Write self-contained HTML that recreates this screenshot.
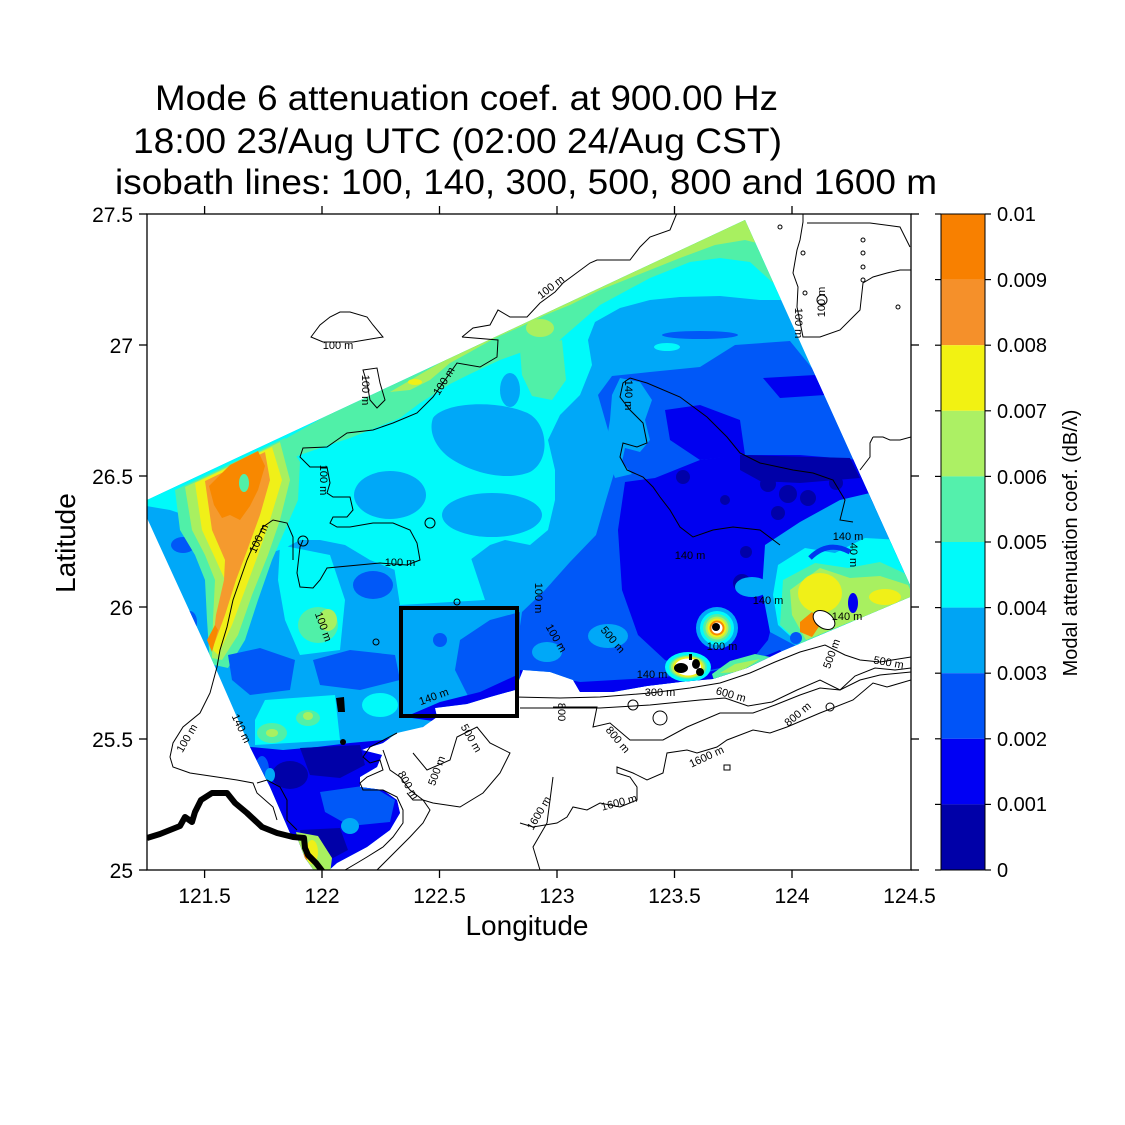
<!DOCTYPE html>
<html><head><meta charset="utf-8"><style>
html,body{margin:0;padding:0;background:#fff;}
svg{display:block;}
text{font-family:"Liberation Sans",Arial,sans-serif;fill:#000;}
.c{fill:none;stroke:#000;stroke-width:1;}
.l{font-size:11px;}
</style></head><body>
<svg width="1125" height="1125" viewBox="0 0 1125 1125" xmlns="http://www.w3.org/2000/svg">
<defs>
<clipPath id="frame"><rect x="147" y="214" width="764" height="656"/></clipPath>
<clipPath id="data"><path d="M147,500 L745,220 L910,585 L910,597 L780,652 L747,668 L713,679 L680,682 L647,686 L613,692 L580,692 L573,680 L550,672 L523,670 L515,690 L490,697 L467,704 L435,708 L437,717 L423,727 L397,733 L383,743 L367,748 L362,750 L382,755 L377,767 L360,777 L360,787 L383,790 L397,800 L400,813 L390,830 L367,847 L337,863 L327,872 L315,872 L305,858 L298,840 L290,833 L270,787 L250,747 L212,660 L157,540 L147,518 Z"/></clipPath>
</defs>
<rect width="1125" height="1125" fill="#fff"/>

<g clip-path="url(#frame)">
<g clip-path="url(#data)">
<rect x="140" y="200" width="780" height="680" fill="#00A8F8"/>
<path fill="#00FAFA" d="M140,470 L745,185 L795,300 L760,300 L720,296 L680,297 L650,300 L620,308 L595,322 L588,340 L592,365 L580,395 L560,415 L548,440 L555,470 L555,500 L548,530 L530,545 L505,540 L490,545 L470,560 L440,570 L400,572 L370,560 L345,545 L320,540 L300,540 L285,548 L250,560 L200,520 L170,510 L140,505 Z"/>
<path fill="#50F0A8" d="M262,452 L745,180 L790,288 L772,282 L750,262 L720,258 L690,262 L650,278 L600,305 L562,338 L545,355 L528,350 L500,360 L470,374 L450,384 L420,403 L400,418 L370,430 L350,438 L320,448 L300,455 L280,463 Z"/>
<path fill="#50F0A8" d="M520,350 L562,340 L566,380 L552,400 L532,396 L522,375 Z"/>
<path fill="#A8F060" d="M390,392 L745,185 L765,245 L745,240 L715,245 L680,258 L640,274 L600,290 L570,305 L545,315 L520,327 L495,338 L470,352 L450,363 L430,380 L410,390 Z"/>
<ellipse cx="540" cy="328" rx="14" ry="9" fill="#A8F060"/>
<ellipse cx="415" cy="382" rx="7" ry="3" fill="#F0F018"/>
<path fill="#00A8F8" d="M433,418 C445,402 495,400 525,412 C548,420 552,460 530,472 C505,482 470,472 450,458 C436,448 428,432 433,418 Z"/>
<ellipse cx="390" cy="495" rx="36" ry="24" fill="#00A8F8"/>
<ellipse cx="492" cy="515" rx="50" ry="22" fill="#00A8F8"/>
<ellipse cx="510" cy="390" rx="10" ry="17" fill="#00A8F8"/>
<ellipse cx="183" cy="545" rx="12" ry="8" fill="#0058F8"/>
<ellipse cx="168" cy="592" rx="7" ry="13" fill="#0058F8"/>
<ellipse cx="190" cy="622" rx="7" ry="11" fill="#0058F8"/>
<!-- left hotspot -->
<path fill="#50F0A8" d="M175,490 L285,438 L300,462 L298,500 L285,530 L272,560 L258,600 L245,640 L228,668 L210,664 L207,620 L205,580 L195,555 L180,530 Z"/>
<path fill="#A8F060" d="M185,487 L280,442 L290,480 L280,520 L268,555 L252,595 L238,635 L222,660 L212,658 L213,620 L215,580 L205,555 L192,530 Z"/>
<path fill="#F0F018" d="M195,483 L272,447 L282,480 L270,520 L258,555 L245,590 L232,625 L218,655 L213,650 L220,615 L225,580 L215,558 L202,530 Z"/>
<path fill="#F59A2E" d="M205,481 L265,452 L270,480 L260,515 L248,548 L236,580 L225,615 L212,650 L216,615 L224,580 L225,560 L212,530 Z"/>
<path fill="#F88800" d="M209,486 L230,465 L258,451 L265,466 L258,490 L250,506 L240,520 L230,515 L222,518 L214,505 Z"/>
<ellipse cx="244" cy="483" rx="5" ry="9" fill="#50F0A8"/>
<path fill="#F88800" d="M207,640 L215,625 L218,630 L212,652 Z"/>
<!-- lower-left mid -->
<path fill="#0058F8" d="M228,655 L260,648 L295,660 L290,690 L250,695 L232,680 Z"/>
<path fill="#0058F8" d="M313,660 L350,650 L395,655 L400,680 L360,690 L320,685 Z"/>
<ellipse cx="373" cy="585" rx="20" ry="14" fill="#0058F8"/>
<path fill="#00FAFA" d="M280,545 L330,555 L345,600 L340,650 L300,655 L285,620 L278,580 Z"/>
<ellipse cx="318" cy="625" rx="20" ry="18" fill="#50F0A8"/>
<ellipse cx="328" cy="620" rx="9" ry="11" fill="#A8F060"/>
<path fill="#00FAFA" d="M393,560 L470,555 L485,600 L400,605 Z"/>
<path fill="#00FAFA" d="M265,700 L335,695 L340,740 L255,745 L255,720 Z"/>
<ellipse cx="272" cy="733" rx="15" ry="10" fill="#50F0A8"/>
<ellipse cx="308" cy="718" rx="12" ry="8" fill="#50F0A8"/>
<ellipse cx="272" cy="733" rx="6" ry="4" fill="#A8F060"/>
<ellipse cx="308" cy="716" rx="5" ry="4" fill="#A8F060"/>
<ellipse cx="380" cy="705" rx="18" ry="12" fill="#00FAFA"/>
<!-- right half -->
<ellipse cx="700" cy="335" rx="38" ry="4" fill="#0058F8"/>
<ellipse cx="667" cy="347" rx="13" ry="4" fill="#00FAFA"/>
<path fill="#0058F8" d="M598,395 L612,376 L650,372 L700,367 L735,345 L790,341 L820,378 L930,600 L780,655 L700,680 L580,695 L555,680 L520,672 L518,640 L522,612 L545,590 L570,562 L596,535 L606,500 L615,470 L608,430 Z"/>
<path fill="#00A8F8" d="M620,378 L640,382 L652,400 L645,420 L650,440 L640,452 L625,448 L622,462 L632,474 L615,478 L605,450 L610,420 L612,395 Z"/>
<ellipse cx="537" cy="578" rx="16" ry="11" fill="#00A8F8"/>
<ellipse cx="608" cy="636" rx="20" ry="12" fill="#00A8F8"/>
<ellipse cx="547" cy="652" rx="15" ry="10" fill="#00A8F8"/>
<path fill="#0000F0" d="M665,410 L700,405 L740,420 L745,455 L700,460 L670,440 Z"/>
<path fill="#0000F0" d="M763,378 L815,375 L825,395 L780,398 Z"/>
<path fill="#0000F0" d="M625,482 L655,478 L700,460 L740,455 L800,455 L860,460 L878,505 L835,530 L805,545 L785,560 L778,600 L768,640 L750,662 L700,672 L665,660 L638,635 L622,590 L618,530 Z"/>
<path fill="#0000F0" d="M520,670 L580,682 L650,678 L700,674 L750,662 L780,650 L790,662 L700,692 L520,702 Z"/>
<path fill="#0000A8" d="M740,455 L850,458 L860,478 L800,483 L760,481 L740,470 Z"/>
<circle cx="768" cy="484" r="8" fill="#0000A8"/>
<circle cx="788" cy="494" r="9" fill="#0000A8"/>
<circle cx="808" cy="498" r="8" fill="#0000A8"/>
<circle cx="836" cy="483" r="7" fill="#0000A8"/>
<circle cx="778" cy="513" r="7" fill="#0000A8"/>
<circle cx="746" cy="552" r="6" fill="#0000A8"/>
<circle cx="742" cy="583" r="9" fill="#0000A8"/>
<circle cx="683" cy="477" r="7" fill="#0000A8"/>
<circle cx="725" cy="500" r="5" fill="#0000A8"/>
<ellipse cx="752" cy="587" rx="17" ry="10" fill="#00A8F8"/>
<!-- box area -->
<path fill="#0058F8" d="M460,640 L490,620 L520,612 L520,690 L470,700 L455,670 Z"/>
<ellipse cx="440" cy="640" rx="7" ry="7" fill="#0058F8"/>
<path fill="#0000F0" d="M405,717 L440,702 L480,692 L517,675 L525,702 L440,722 Z"/>
<!-- lower lobe -->
<path fill="#0000F0" d="M230,745 L283,750 L317,747 L350,743 L383,740 L417,730 L440,718 L460,715 L460,900 L230,900 Z"/>
<path fill="#0000A8" d="M300,748 L360,745 L365,765 L340,778 L310,775 Z"/>
<ellipse cx="290" cy="775" rx="18" ry="14" fill="#0000A8"/>
<path fill="#0000A8" d="M300,830 L340,828 L348,850 L320,865 L302,850 Z"/>
<path fill="#0058F8" d="M320,792 L370,785 L395,800 L390,822 L350,826 L325,812 Z"/>
<ellipse cx="262" cy="770" rx="7" ry="14" fill="#0058F8"/>
<ellipse cx="350" cy="826" rx="9" ry="8" fill="#00A8F8"/>
<ellipse cx="270" cy="775" rx="5" ry="7" fill="#00A8F8"/>
<path fill="#A8F060" d="M296,832 L318,836 L332,858 L330,874 L312,874 L302,856 Z"/>
<ellipse cx="312" cy="852" rx="6" ry="12" fill="#F0F018"/>
<ellipse cx="305" cy="858" rx="2" ry="5" fill="#F88800"/>
<!-- right hotspot -->
<path fill="#00A8F8" d="M765,545 L800,522 L840,500 L870,493 L895,520 L915,560 L915,600 L860,622 L800,648 L770,632 L762,590 Z"/>
<path fill="#00FAFA" d="M778,565 L805,548 L835,553 L865,538 L900,540 L915,572 L915,600 L850,624 L800,645 L778,625 L773,595 Z"/>
<path d="M810,558 Q828,540 850,552" fill="none" stroke="#0038F0" stroke-width="5"/>
<path fill="#50F0A8" d="M783,580 L815,563 L848,568 L880,562 L908,575 L915,600 L850,624 L802,645 L780,625 Z"/>
<path fill="#A8F060" d="M790,590 L820,568 L850,578 L880,576 L908,585 L915,600 L850,622 L806,640 L792,615 Z"/>
<ellipse cx="820" cy="593" rx="22" ry="20" fill="#F0F018"/>
<ellipse cx="885" cy="597" rx="16" ry="8" fill="#F0F018"/>
<path fill="#F88800" d="M800,622 L812,612 L822,622 L812,637 L800,632 Z"/>
<ellipse cx="853" cy="603" rx="5" ry="10" fill="#0000F0"/>
<circle cx="796" cy="638" r="6" fill="#0058F8"/>
<!-- eddies -->
<circle cx="717" cy="628" r="21" fill="#00A8F8"/>
<circle cx="717" cy="628" r="17" fill="#00FAFA"/>
<circle cx="717" cy="628" r="14" fill="#50F0A8"/>
<circle cx="717" cy="628" r="11.5" fill="#A8F060"/>
<circle cx="717" cy="628" r="9.5" fill="#F0F018"/>
<circle cx="717" cy="628" r="7.5" fill="#F88800"/>
<circle cx="717" cy="628" r="5.5" fill="#fff"/>
<circle cx="716" cy="627" r="4" fill="#000"/>
<ellipse cx="688" cy="667" rx="23" ry="15" fill="#00FAFA"/>
<ellipse cx="688" cy="667" rx="19" ry="12" fill="#50F0A8"/>
<ellipse cx="688" cy="667" rx="17" ry="11" fill="#A8F060"/>
<ellipse cx="688" cy="667" rx="15" ry="10" fill="#F0F018"/>
<ellipse cx="688" cy="667" rx="13" ry="8.5" fill="#fff"/>
<ellipse cx="681" cy="668" rx="7" ry="5" fill="#000"/>
<ellipse cx="696" cy="664" rx="4" ry="5" fill="#000"/>
<ellipse cx="700" cy="672" rx="4" ry="4" fill="#000"/>
<rect x="689" y="654" width="3" height="6" fill="#000"/>
<path fill="#50F0A8" d="M712,674 L730,661 L755,654 L775,658 L745,676 L715,684 Z"/>
<path fill="#A8F060" d="M720,673 L735,664 L760,659 L740,672 Z"/>
<path fill="#000" d="M336,698 L344,697 L345,712 L338,712 Z"/>
<circle cx="343" cy="742" r="3" fill="#000"/>
</g>

<g class="c">
<polyline points="462,337 473,328 490,325 498,310 510,317 527,317 540,303 555,292 563,283 590,263 597,260 630,260 640,247 650,237 670,230 677,213"/>
<polyline points="462,337 498,340 497,357 480,367 457,363 450,373 433,397 417,413 393,423 373,430 347,433 337,440 327,447 303,448 300,457 310,467 327,467 330,483 327,493 333,497 350,497 353,510 347,517 333,517 330,523 337,527 350,527 373,523 393,523 410,530 417,543 420,560 407,565 380,563 327,568 320,580 313,588 300,587 297,573 300,547 303,540"/>
<polygon points="311,337 320,325 330,317 340,312 350,312 367,317 373,325 383,337 353,342 323,342"/>
<polygon points="363,370 377,368 380,383 385,400 377,408 370,400 367,383"/>
<polyline points="293,560 293,537 287,523 273,520 263,527 250,553 247,560 240,580 233,600 227,627 220,650 217,667 210,693 200,713 183,727 173,743 170,757 173,767 190,773 217,777 237,780 253,783 257,793 273,807 277,820"/>
<polyline points="803,214 803,222 800,240 797,250 793,273 798,287 797,307 803,337 820,337 840,330 860,310 863,283 873,277 887,273 900,270 911,270"/>
<polyline points="807,223 870,223 900,227 910,247"/>
<polyline points="873,437 883,437 890,440 900,440 911,437"/>
<polyline points="873,437 870,443 870,457 860,470"/>
<circle cx="780" cy="227" r="2"/><circle cx="863" cy="240" r="2"/><circle cx="863" cy="253" r="2"/><circle cx="863" cy="267" r="2"/><circle cx="863" cy="280" r="2"/><circle cx="898" cy="307" r="2"/><circle cx="803" cy="253" r="2"/><circle cx="805" cy="293" r="2"/><circle cx="822" cy="300" r="5"/>
<circle cx="430" cy="523" r="5"/><circle cx="303" cy="541" r="5"/><circle cx="457" cy="602" r="3"/><circle cx="376" cy="642" r="3"/>
<polyline points="630,378 647,383 680,397 707,417 727,437 740,453 760,463 793,470 813,473 833,480 845,500 840,520 853,522"/>
<polyline points="630,378 623,383 620,397 630,410 643,423 647,443 637,447 623,443 620,457 627,470 643,477 653,487 660,497 670,510 680,527 693,537 713,530 733,527 760,530 780,545"/>
<polyline points="515,697 560,698 600,697 650,693 690,688 720,683 750,673 775,662 800,652 825,645 845,655 860,660 880,662 911,657"/>
<polyline points="520,708 600,708 650,705 700,700 725,698 748,706 772,702 797,690 820,680 840,690 855,676 875,668 895,670 911,668"/>
<polyline points="553,707 597,707 593,727 610,723 630,740 663,740 687,727 720,713 753,713 775,705 800,695 820,688 840,690 860,680 880,675 911,672"/>
<polyline points="911,680 887,687 873,683 853,700 820,713 787,727 770,733 753,730 727,740 717,747 697,753 687,750 667,753 663,773 647,780 633,773 617,767 617,773 630,777 637,787 637,800 620,807 600,803 587,810 573,807 567,817 557,823 533,827 520,823"/>
<polyline points="553,777 550,800 547,823 533,847 540,870"/>
<circle cx="633" cy="705" r="5"/><circle cx="660" cy="718" r="7"/><circle cx="830" cy="707" r="4"/><rect x="724" y="765" width="6" height="5"/>
<polyline points="397,733 370,747 363,757 370,763 380,760 383,770 367,777 360,783 363,790 383,790 397,797 403,810 403,823 393,837 383,847 367,857 357,863 345,870"/>
<polyline points="383,750 390,770 400,777 410,790 423,800 430,810 423,823 410,837 397,850 387,860 377,870"/>
<polyline points="413,753 427,770 450,760 457,737 477,727 490,743 510,753 500,773 483,793 460,807 433,803 423,800 413,800 407,793"/>
<polyline points="257,783 267,780 280,787 287,800 287,820 297,830"/>
<ellipse cx="824" cy="620" rx="12" ry="8" transform="rotate(35 824 620)" fill="#fff"/>
</g>
<path d="M147,838 L160,834 L170,830 L180,826 L185,817 L192,822 L195,812 L201,800 L212,793 L227,793 L235,803 L247,813 L262,827 L277,833 L293,837 L304,838 L305,848 L308,855 L316,863 L323,872" fill="none" stroke="#000" stroke-width="6" stroke-linejoin="round"/>
<g class="l">
<text transform="translate(553,290) rotate(-38)" text-anchor="middle">100 m</text>
<text transform="translate(447,383) rotate(-58)" text-anchor="middle">100 m</text>
<text transform="translate(320,480) rotate(90)" text-anchor="middle">100 m</text>
<text x="338" y="349" text-anchor="middle">100 m</text>
<text transform="translate(362,390) rotate(90)" text-anchor="middle">100 m</text>
<text x="400" y="566" text-anchor="middle">100 m</text>
<text transform="translate(320,628) rotate(70)" text-anchor="middle">100 m</text>
<text transform="translate(262,540) rotate(-65)" text-anchor="middle">100 m</text>
<text transform="translate(190,740) rotate(-60)" text-anchor="middle">100 m</text>
<text transform="translate(238,730) rotate(65)" text-anchor="middle">140 m</text>
<text transform="translate(795,323) rotate(90)" text-anchor="middle">100 m</text>
<text transform="translate(825,302) rotate(-90)" text-anchor="middle">100 m</text>
<text transform="translate(625,395) rotate(90)" text-anchor="middle">140 m</text>
<text x="690" y="559" text-anchor="middle">140 m</text>
<text x="848" y="540" text-anchor="middle">140 m</text>
<text transform="translate(850,555) rotate(90)" text-anchor="middle">40 m</text>
<text x="847" y="620" text-anchor="middle">140 m</text>
<text x="768" y="604" text-anchor="middle">140 m</text>
<text x="722" y="650" text-anchor="middle">100 m</text>
<text transform="translate(535,598) rotate(90)" text-anchor="middle">100 m</text>
<text transform="translate(553,640) rotate(60)" text-anchor="middle">100 m</text>
<text transform="translate(610,642) rotate(50)" text-anchor="middle">500 m</text>
<text x="652" y="678" text-anchor="middle">140 m</text>
<text x="660" y="696" text-anchor="middle">300 m</text>
<text transform="translate(730,698) rotate(15)" text-anchor="middle">600 m</text>
<text transform="translate(835,655) rotate(-70)" text-anchor="middle">500 m</text>
<text transform="translate(888,666) rotate(10)" text-anchor="middle">500 m</text>
<text transform="translate(800,717) rotate(-40)" text-anchor="middle">800 m</text>
<text transform="translate(615,742) rotate(50)" text-anchor="middle">800 m</text>
<text transform="translate(708,760) rotate(-25)" text-anchor="middle">1600 m</text>
<text transform="translate(620,806) rotate(-15)" text-anchor="middle">1600 m</text>
<text transform="translate(542,815) rotate(-60)" text-anchor="middle">1600 m</text>
<text transform="translate(558,712) rotate(90)" text-anchor="middle">800</text>
<text transform="translate(435,700) rotate(-20)" text-anchor="middle">140 m</text>
<text transform="translate(405,787) rotate(60)" text-anchor="middle">800 m</text>
<text transform="translate(440,772) rotate(-70)" text-anchor="middle">500 m</text>
<text transform="translate(468,740) rotate(60)" text-anchor="middle">500 m</text>
</g>
<rect x="401" y="608" width="116" height="108" fill="none" stroke="#000" stroke-width="4"/>
</g>

<rect x="147" y="214" width="764" height="656" fill="none" stroke="#000" stroke-width="1.3"/>
<g stroke="#000" stroke-width="1.3">
<line x1="204.6" y1="870" x2="204.6" y2="878"/><line x1="322" y1="870" x2="322" y2="878"/><line x1="439.5" y1="870" x2="439.5" y2="878"/><line x1="557" y1="870" x2="557" y2="878"/><line x1="674.5" y1="870" x2="674.5" y2="878"/><line x1="792" y1="870" x2="792" y2="878"/>
<line x1="204.6" y1="206" x2="204.6" y2="214"/><line x1="322" y1="206" x2="322" y2="214"/><line x1="439.5" y1="206" x2="439.5" y2="214"/><line x1="557" y1="206" x2="557" y2="214"/><line x1="674.5" y1="206" x2="674.5" y2="214"/><line x1="792" y1="206" x2="792" y2="214"/>
<line x1="139" y1="214" x2="147" y2="214"/><line x1="139" y1="345" x2="147" y2="345"/><line x1="139" y1="476" x2="147" y2="476"/><line x1="139" y1="607" x2="147" y2="607"/><line x1="139" y1="739" x2="147" y2="739"/><line x1="139" y1="870" x2="147" y2="870"/>
<line x1="911" y1="214" x2="919" y2="214"/><line x1="911" y1="345" x2="919" y2="345"/><line x1="911" y1="476" x2="919" y2="476"/><line x1="911" y1="607" x2="919" y2="607"/><line x1="911" y1="739" x2="919" y2="739"/><line x1="911" y1="870" x2="919" y2="870"/>
</g>
<g font-size="21" text-anchor="end">
<text x="133" y="222">27.5</text><text x="133" y="353">27</text><text x="133" y="484">26.5</text><text x="133" y="615">26</text><text x="133" y="747">25.5</text><text x="133" y="878">25</text>
</g>
<g font-size="21" text-anchor="middle">
<text x="204.6" y="903">121.5</text><text x="322" y="903">122</text><text x="439.5" y="903">122.5</text><text x="557" y="903">123</text><text x="674.5" y="903">123.5</text><text x="792" y="903">124</text><text x="909.5" y="903">124.5</text>
</g>
<text x="527" y="935" font-size="28" text-anchor="middle">Longitude</text>
<text transform="translate(75,543) rotate(-90)" font-size="28" text-anchor="middle">Latitude</text>

<text x="155" y="110" font-size="35" textLength="623" lengthAdjust="spacingAndGlyphs">Mode 6 attenuation coef. at 900.00 Hz</text>
<text x="133" y="153" font-size="35" textLength="649" lengthAdjust="spacingAndGlyphs">18:00 23/Aug UTC (02:00 24/Aug CST)</text>
<text x="115" y="194" font-size="35" textLength="822" lengthAdjust="spacingAndGlyphs">isobath lines: 100, 140, 300, 500, 800 and 1600 m</text>

<rect x="941" y="214" width="44" height="65.6" fill="#F88000"/>
<rect x="941" y="279.6" width="44" height="65.6" fill="#F5902A"/>
<rect x="941" y="345.2" width="44" height="65.6" fill="#F2F212"/>
<rect x="941" y="410.8" width="44" height="65.6" fill="#ACF064"/>
<rect x="941" y="476.4" width="44" height="65.6" fill="#54F0AC"/>
<rect x="941" y="542" width="44" height="65.6" fill="#00FAFA"/>
<rect x="941" y="607.6" width="44" height="65.6" fill="#00A4F4"/>
<rect x="941" y="673.2" width="44" height="65.6" fill="#0054F8"/>
<rect x="941" y="738.8" width="44" height="65.6" fill="#0000F4"/>
<rect x="941" y="804.4" width="44" height="65.6" fill="#0000A8"/>
<rect x="941" y="214" width="44" height="656" fill="none" stroke="#000" stroke-width="1"/>
<g stroke="#000" stroke-width="1.2">
<line x1="935" y1="214" x2="941" y2="214"/><line x1="985" y1="214" x2="991" y2="214"/>
<line x1="935" y1="279.6" x2="941" y2="279.6"/><line x1="985" y1="279.6" x2="991" y2="279.6"/>
<line x1="935" y1="345.2" x2="941" y2="345.2"/><line x1="985" y1="345.2" x2="991" y2="345.2"/>
<line x1="935" y1="410.8" x2="941" y2="410.8"/><line x1="985" y1="410.8" x2="991" y2="410.8"/>
<line x1="935" y1="476.4" x2="941" y2="476.4"/><line x1="985" y1="476.4" x2="991" y2="476.4"/>
<line x1="935" y1="542" x2="941" y2="542"/><line x1="985" y1="542" x2="991" y2="542"/>
<line x1="935" y1="607.6" x2="941" y2="607.6"/><line x1="985" y1="607.6" x2="991" y2="607.6"/>
<line x1="935" y1="673.2" x2="941" y2="673.2"/><line x1="985" y1="673.2" x2="991" y2="673.2"/>
<line x1="935" y1="738.8" x2="941" y2="738.8"/><line x1="985" y1="738.8" x2="991" y2="738.8"/>
<line x1="935" y1="804.4" x2="941" y2="804.4"/><line x1="985" y1="804.4" x2="991" y2="804.4"/>
<line x1="935" y1="870" x2="941" y2="870"/><line x1="985" y1="870" x2="991" y2="870"/>
</g>
<g font-size="20">
<text x="997" y="221">0.01</text><text x="997" y="287">0.009</text><text x="997" y="352">0.008</text><text x="997" y="418">0.007</text><text x="997" y="484">0.006</text><text x="997" y="549">0.005</text><text x="997" y="615">0.004</text><text x="997" y="680">0.003</text><text x="997" y="746">0.002</text><text x="997" y="811">0.001</text><text x="997" y="877">0</text>
</g>
<text transform="translate(1077,543) rotate(-90)" font-size="20" text-anchor="middle">Modal attenuation coef. (dB/λ)</text>
</svg>
</body></html>
